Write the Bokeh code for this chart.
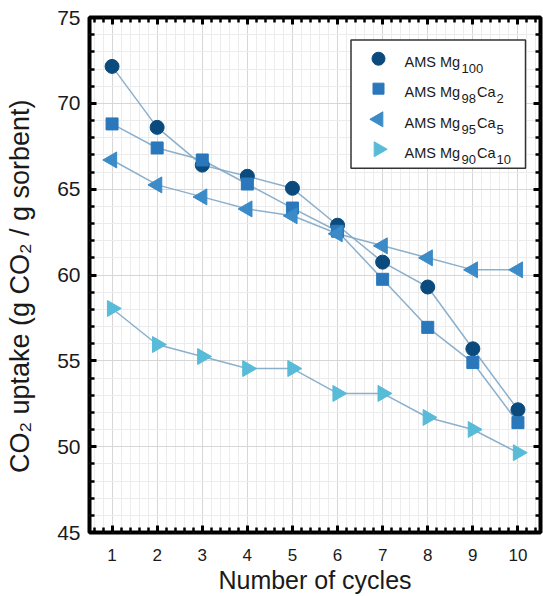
import math
from bokeh.plotting import figure
from bokeh.models import Range1d, SingleIntervalTicker, LinearAxis
from bokeh.core.properties import value
from bokeh.embed import file_html
from bokeh.resources import INLINE

# ---------------- data ----------------
cycles = [1, 2, 3, 4, 5, 6, 7, 8, 9, 10]
mg100 = [72.15, 68.6, 66.4, 65.75, 65.05, 62.9, 60.75, 59.3, 55.7, 52.15]
mg98ca2 = [68.8, 67.4, 66.7, 65.3, 63.9, 62.55, 59.75, 56.95, 54.9, 51.4]
mg95ca5 = [66.7, 65.25, 64.55, 63.85, 63.45, 62.4, 61.7, 61.0, 60.3, 60.3]
mg90ca10 = [58.05, 55.95, 55.25, 54.55, 54.55, 53.1, 53.1, 51.7, 51.0, 49.65]

x_ticks_interval = 1
y_ticks_interval = 5
x_label = "Number of cycles"
y_label = "CO\u2082 uptake (g CO\u2082 / g sorbent)"

FONT = "Liberation Sans"
TXT = "#1a1a1a"

W, H = 543, 596
BL, BR, BT, BB = 89, 3, 17, 63
X0, X1 = 0.5, 10.5
Y0, Y1 = 45, 75

p = figure(width=W, height=H, output_backend="svg", toolbar_location=None,
           x_range=Range1d(X0, X1), y_range=Range1d(Y0, Y1))
p.min_border = 0
p.min_border_left = BL
p.min_border_right = BR
p.min_border_top = BT
p.min_border_bottom = BB
p.background_fill_color = "white"
p.border_fill_color = "white"
p.outline_line_color = "black"
p.outline_line_width = 4

fw = W - BL - BR
fh = H - BT - BB


def px2x(px):
    return X0 + (px - BL) / fw * (X1 - X0)


def py2y(py):
    return Y1 - (py - BT) / fh * (Y1 - Y0)


xt = SingleIntervalTicker(interval=x_ticks_interval, num_minor_ticks=5)
yt = SingleIntervalTicker(interval=y_ticks_interval, num_minor_ticks=5)


def style_axis(ax, show_labels, size):
    ax.axis_line_color = None
    ax.major_tick_in = 7
    ax.major_tick_out = 0
    ax.minor_tick_in = 5
    ax.minor_tick_out = 0
    ax.major_tick_line_width = 3
    ax.minor_tick_line_width = 2.5
    ax.major_tick_line_color = "black"
    ax.minor_tick_line_color = "black"
    if show_labels:
        ax.major_label_text_font = FONT
        ax.major_label_text_font_size = size
        ax.major_label_text_color = TXT
    else:
        ax.major_label_text_font_size = "1px"
        ax.major_label_text_color = None
        ax.major_label_standoff = 0


p.xaxis.ticker = xt
p.yaxis.ticker = yt
style_axis(p.xaxis[0], True, "17px")
style_axis(p.yaxis[0], True, "21px")
p.xaxis.major_label_standoff = 16
p.yaxis.major_label_standoff = 9

p.xaxis.axis_label = x_label
p.xaxis.axis_label_text_font = FONT
p.xaxis.axis_label_text_font_size = "25px"
p.xaxis.axis_label_text_font_style = "normal"
p.xaxis.axis_label_text_color = TXT
p.xaxis.axis_label_standoff = 2

# trailing no-break spaces nudge the centred label slightly downward, as in the reference
p.yaxis.axis_label = y_label + "\u00a0\u00a0\u00a0"
p.yaxis.axis_label_text_font = FONT
p.yaxis.axis_label_text_font_size = "27px"
p.yaxis.axis_label_text_font_style = "normal"
p.yaxis.axis_label_text_color = TXT
p.yaxis.axis_label_standoff = 19

top_ax = LinearAxis(ticker=xt)
right_ax = LinearAxis(ticker=yt)
style_axis(top_ax, False, "1px")
style_axis(right_ax, False, "1px")
p.add_layout(top_ax, "above")
p.add_layout(right_ax, "right")

p.xgrid.ticker = xt
p.ygrid.ticker = yt
for g in (p.xgrid[0], p.ygrid[0]):
    g.grid_line_color = "#d6d6d6"
    g.grid_line_width = 1
    g.minor_grid_line_color = "#ececec"
    g.minor_grid_line_width = 1

# ---------------- series ----------------
LINE = "#7fa7c6"
series = [
    (mg100, "circle", "#0a4a7c", 14, 0),
    (mg98ca2, "square", "#2a77bc", 12, 0),
    (mg95ca5, "triangle", "#3a8bc8", 16, math.pi / 2),
    (mg90ca10, "triangle", "#58bbd8", 16, -math.pi / 2),
]
for ys, _, _, _, _ in series:
    p.line(cycles, ys, line_color=LINE, line_width=1.5, line_alpha=0.9)
for ys, mk, col, sz, ang in series:
    p.scatter(cycles, ys, marker=mk, size=sz, angle=ang,
              fill_color=col, line_color=col, line_width=1)

# ---------------- legend (hand built, with subscripts) ----------------
p.quad(left=[px2x(350.5)], right=[px2x(525)], top=[py2y(39.5)], bottom=[py2y(168)],
       fill_color="white", line_color="#333333", line_width=1.5)

rows_py = [58.3, 88.3, 119.0, 149.0]
mk_px = 378
for (ys, mk, col, sz, ang), ry in zip(series, rows_py):
    p.scatter([px2x(mk_px)], [py2y(ry)], marker=mk, size=sz - 1, angle=ang,
              fill_color=col, line_color=col, line_width=1)

leg_main = [["AMS Mg"], ["AMS Mg", "Ca"], ["AMS Mg", "Ca"], ["AMS Mg", "Ca"]]
leg_sub = [["100"], ["98", "2"], ["95", "5"], ["90", "10"]]
base_py = [62.0, 92.0, 122.5, 152.5]
main_x = [404, 476.5]
sub_x = [461, 496]
for mains, subs, by in zip(leg_main, leg_sub, base_py):
    p.text([px2x(main_x[i]) for i in range(len(mains))], [py2y(by)] * len(mains), text=mains,
           text_font=value(FONT), text_font_size=value("14.5px"), text_color=TXT,
           text_baseline="alphabetic", text_align="left")
    p.text([px2x(sub_x[i]) for i in range(len(subs))], [py2y(by + 6.5)] * len(subs), text=subs,
           text_font=value(FONT), text_font_size=value("13px"), text_color=TXT,
           text_baseline="alphabetic", text_align="left")

open("out.html", "w").write(file_html(p, INLINE))
